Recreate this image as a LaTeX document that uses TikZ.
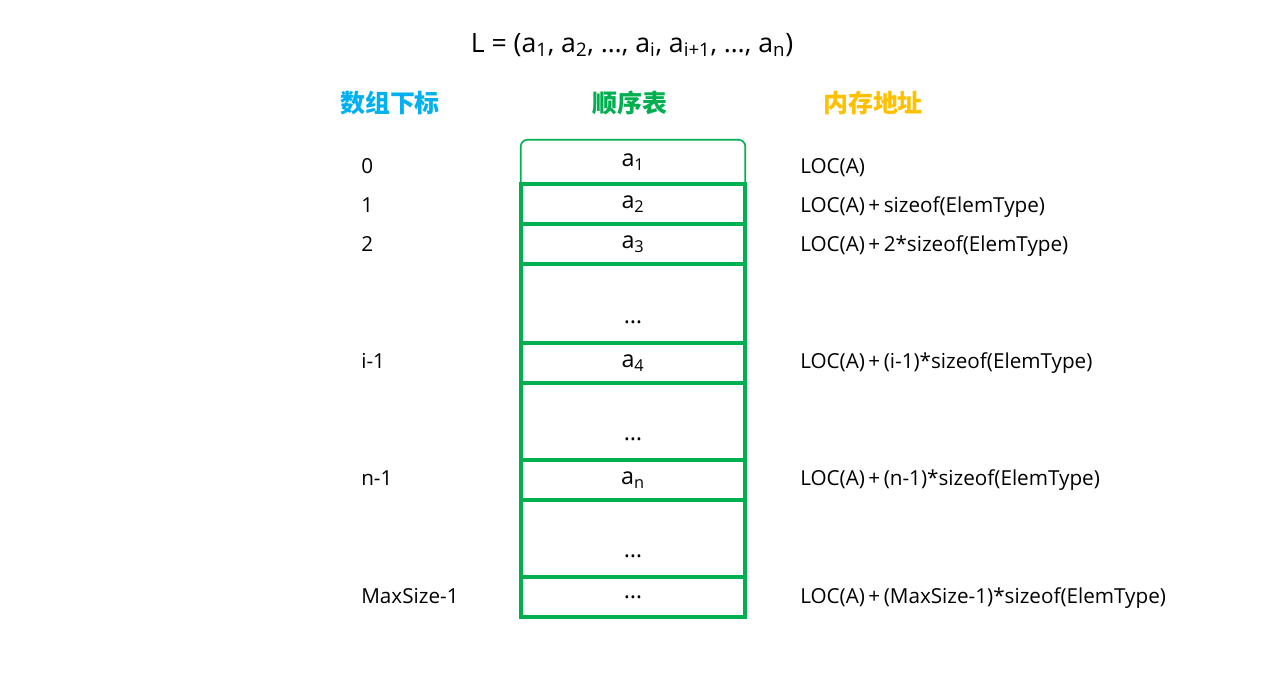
\documentclass[tikz,border=0pt]{standalone}
\usepackage{fontspec}
\setmainfont{Open Sans}
\newfontfamily\cjk{Noto Sans CJK SC}
\usepackage{tikz}
\usetikzlibrary{positioning}

\definecolor{idxblue}{HTML}{00B0F0}
\definecolor{seqgreen}{HTML}{00B050}
\definecolor{addryellow}{HTML}{FFC000}
\newcommand\lsub[1]{\textsubscript{#1}}
\newcommand\lplus{\,+\,}

\begin{document}
\begin{tikzpicture}[x=0.75pt, y=-0.75pt,
  every node/.style={font=\fontsize{15.5}{18}\selectfont, inner sep=0pt},
  head/.style={font=\cjk\bfseries\fontsize{18.7}{21}\selectfont},
  cell/.style={draw=seqgreen, line width=2.4pt, minimum width=168pt},
  elem/.style={font=\fontsize{17.5}{20}\selectfont},
  idx/.style={anchor=base west},
  addr/.style={anchor=base west}
]
\useasboundingbox (0,0) rectangle (1276,676);

% title and column heads
\node[font=\fontsize{20}{23}\selectfont] (title) at (632,45)
  {L = (a\lsub{1}, a\lsub{2}, \dots, a\lsub{i}, a\lsub{i+1}, \dots, a\lsub{n})};
\node[head, text=idxblue] (hidx) at (390,103) {数组下标};
\node[head, text=seqgreen] (hseq) at (630,103) {顺序表};
\node[head, text=addryellow] (haddr) at (873,103) {内存地址};

% the cells of the table
\node[minimum width=168pt, minimum height=33pt] (c1) at (633,162) {};
\draw[seqgreen, line width=1.2pt, rounded corners=5pt]
  (c1.south west) -- (c1.north west) -- (c1.north east) -- (c1.south east);
\foreach \n/\yt/\yb in {2/184/224, 3/224/264, 4/264/343, 5/343/383,
                        6/383/460, 7/460/500, 8/500/577, 9/577/617}
  \node[cell, minimum height={(\yb-\yt)*0.75pt}] (c\n) at (633,{(\yt+\yb)/2}) {};

\node[elem] (e1) at (c1) {a\lsub{1}};
\node[elem] (e2) at (c2) {a\lsub{2}};
\node[elem] (e3) at (c3) {a\lsub{3}};
\node[elem] (e5) at (c5) {a\lsub{4}};
\node[elem] (e7) at (c7) {a\lsub{n}};
\node[elem] (e9) at (c9) {\dots};
\foreach \n in {4,6,8}
  \path (c\n.south) ++(0,-22) node[elem] (e\n) {\dots};

% index column
\node[idx] (i0) at (361,173) {0};
\node[idx] (i1) at (361,212) {1};
\node[idx] (i2) at (361,251) {2};
\node[idx] (ii) at (361,368) {i-1};
\node[idx] (in) at (361,485) {n-1};
\node[idx] (im) at (361,603) {MaxSize-1};

% address column
\node[addr] (a0) at (800,173) {LOC(A)};
\node[addr] (a1) at (800,212) {LOC(A)\lplus sizeof(ElemType)};
\node[addr] (a2) at (800,251) {LOC(A)\lplus 2*sizeof(ElemType)};
\node[addr] (ai) at (800,368) {LOC(A)\lplus(i-1)*sizeof(ElemType)};
\node[addr] (an) at (800,485) {LOC(A)\lplus(n-1)*sizeof(ElemType)};
\node[addr] (am) at (800,603) {LOC(A)\lplus(MaxSize-1)*sizeof(ElemType)};
\end{tikzpicture}
\end{document}
